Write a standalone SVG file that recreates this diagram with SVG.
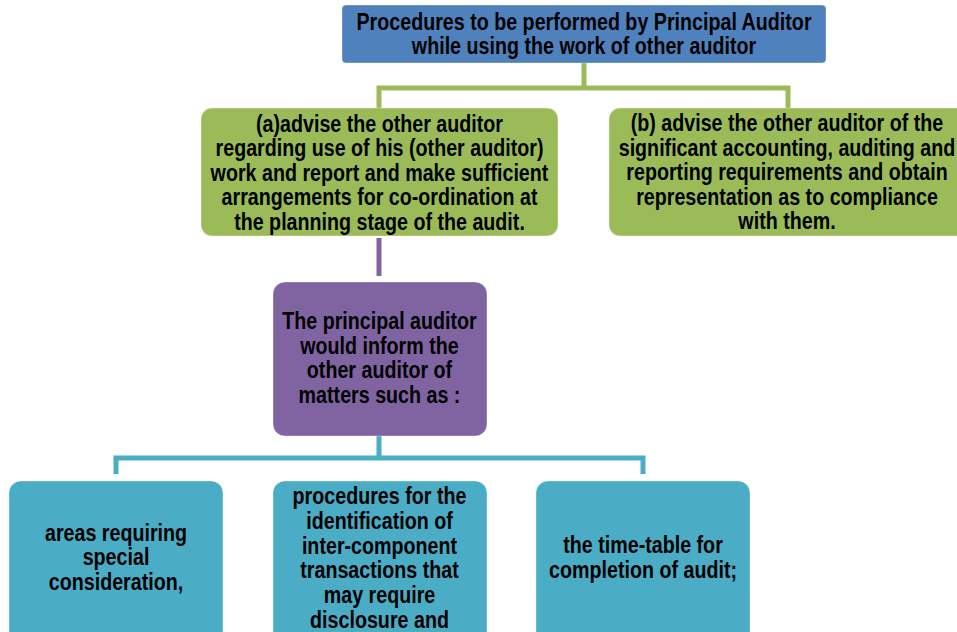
<svg xmlns="http://www.w3.org/2000/svg" width="957" height="632" viewBox="0 0 957 632">
<style>
text{font-family:"Liberation Sans",Arial,sans-serif;font-weight:bold;font-size:24px;fill:#000;text-anchor:middle}
.box{stroke:#fff;stroke-opacity:0.35;stroke-width:1}
.blue{fill:#4F81BD}
.green{fill:#9BBB59}
.purple{fill:#8064A2}
.teal{fill:#4BACC6}
.cg{stroke:#9BBB59;stroke-width:5;fill:none}
.cp{stroke:#8064A2;stroke-width:5;fill:none}
.ct{stroke:#4BACC6;stroke-width:5;fill:none}
</style>
<rect width="957" height="632" fill="#fff"/>
<g id="connectors">
<path class="cg" d="M584 63V88M379 108V88H788V108"/>
<path class="cp" d="M379 238V276"/>
<path class="ct" d="M379 436V458M116 474V458H643V474"/>
</g>
<g id="n-top">
<rect class="box blue" x="342" y="5" width="484" height="58" rx="4"/>
<g transform="translate(584 0) scale(0.82 1)">
<text x="0" y="30">Procedures to be performed by Principal Auditor</text>
<text x="0" y="54.5">while using the work of other auditor</text>
</g>
</g>
<g id="n-a">
<rect class="box green" x="201" y="108" width="357" height="128" rx="11"/>
<g transform="translate(379.5 0) scale(0.82 1)">
<text x="0" y="132">(a)advise the other auditor</text>
<text x="0" y="156.5">regarding use of his (other auditor)</text>
<text x="0" y="181">work and report and make sufficient</text>
<text x="0" y="205.5">arrangements for co-ordination at</text>
<text x="0" y="230">the planning stage of the audit.</text>
</g>
</g>
<g id="n-b">
<rect class="box green" x="609" y="108" width="358" height="128" rx="11"/>
<g transform="translate(787 0) scale(0.82 1)">
<text x="0" y="131.5">(b) advise the other auditor of the</text>
<text x="0" y="156">significant accounting, auditing and</text>
<text x="0" y="180.5">reporting requirements and obtain</text>
<text x="0" y="205">representation as to compliance</text>
<text x="0" y="229.5">with them.</text>
</g>
</g>
<g id="n-principal">
<rect class="box purple" x="273" y="282" width="214" height="154" rx="12"/>
<g transform="translate(379.5 0) scale(0.82 1)">
<text x="0" y="329.5">The principal auditor</text>
<text x="0" y="354">would inform the</text>
<text x="0" y="378.5">other auditor of</text>
<text x="0" y="403">matters such as :</text>
</g>
</g>
<g id="n-areas">
<rect class="box teal" x="9" y="481" width="214" height="170" rx="12"/>
<g transform="translate(116 0) scale(0.82 1)">
<text x="0" y="541">areas requiring</text>
<text x="0" y="565.5">special</text>
<text x="0" y="590">consideration,</text>
</g>
</g>
<g id="n-procedures">
<rect class="box teal" x="273" y="481" width="214" height="170" rx="12"/>
<g transform="translate(379.5 0) scale(0.82 1)">
<text x="0" y="504">procedures for the</text>
<text x="0" y="528.8">identification of</text>
<text x="0" y="553.6">inter-component</text>
<text x="0" y="578.4">transactions that</text>
<text x="0" y="603.2">may require</text>
<text x="0" y="628">disclosure and</text>
</g>
</g>
<g id="n-timetable">
<rect class="box teal" x="536" y="481" width="214" height="170" rx="12"/>
<g transform="translate(643 0) scale(0.82 1)">
<text x="0" y="553.5">the time-table for</text>
<text x="0" y="578">completion of audit;</text>
</g>
</g>
</svg>
